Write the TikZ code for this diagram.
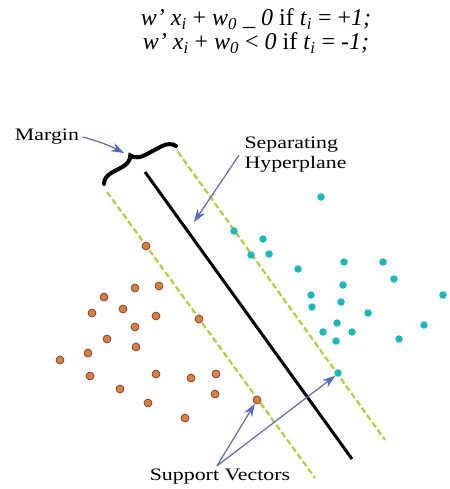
\documentclass[tikz,border=0pt]{standalone}
\usepackage{fontspec}
\setmainfont{Liberation Serif}
\newfontfamily\labelfont[FakeStretch=1.25]{Liberation Serif}
\usetikzlibrary{arrows.meta,decorations.pathreplacing}
\definecolor{marginline}{HTML}{B5CC3E}
\definecolor{pointer}{HTML}{5A6BB5}
\definecolor{classneg}{HTML}{E37A35}
\definecolor{classpos}{HTML}{1FB8B8}
\newcommand{\lowidx}[1]{\textsubscript{\itshape #1}}

\begin{document}
\begin{tikzpicture}[x=1pt,y=-1pt,
  labeltext/.style={font=\labelfont\fontsize{17.5}{20}\selectfont},
  pointerarrow/.style={pointer,line width=1.2pt,-{Stealth[length=13pt,width=9pt]}},
  marginedge/.style={marginline,line width=2.2pt,dash pattern=on 6pt off 3pt},
  negdot/.style={circle,inner sep=0pt,minimum size=8pt,fill=classneg,draw=black!75,line width=0.6pt},
  posdot/.style={circle,inner sep=0pt,minimum size=7.5pt,fill=classpos}]
\useasboundingbox (0,0) rectangle (449,489);
% Decision rule
\node[font=\fontsize{24}{24}\selectfont,align=center] (rule) at (256,31)
  {\textit{w' x}\lowidx{i} + \textit{w}\lowidx{0} \_ \textit{0} if \textit{t}\lowidx{i} = +\textit{1;}\\
   \textit{w' x}\lowidx{i} + \textit{w}\lowidx{0} < \textit{0} if \textit{t}\lowidx{i} = -\textit{1;}};
% Margin boundaries
\draw[marginedge] (107,192) -- (315,478);
\draw[marginedge] (178,152) -- (385,440);
% Separating hyperplane
\draw[line width=3pt] (145,172) -- (352,459);
% Margin brace
\draw[line width=4pt,line cap=round,decorate,
  decoration={brace,amplitude=13pt,aspect=0.45}] (104,184) -- (176,146);
\coordinate (bracetip) at (124,153);
% Class -1
\foreach \px/\py in {135/288,159/286,104/297,92/313,123/309,156/316,135/327,
  107/339,136/347,88/353,60/360,90/376,156/374,191/378,216/374,120/389,
  215/394,148/403,185/418}
  \node[negdot] at (\px,\py) {};
\node[negdot] (negsva) at (146,246) {};
\node[negdot] (negsvb) at (199,319) {};
\node[negdot] (negsvc) at (257,400) {};
% Class +1
\foreach \px/\py in {321/197,263/239,269/254,298/269,344/262,383/262,394/279,
  343/285,443/295,311/295,341/302,312/307,368/313,337/323,424/325,323/332,
  352/332,336/341,399/339}
  \node[posdot] at (\px,\py) {};
\node[posdot] (possva) at (234,231) {};
\node[posdot] (possvb) at (251,255) {};
\node[posdot] (possvc) at (338,373) {};
% Labels
\node[labeltext] (marginlabel) at (47,137) {Margin};
\node[labeltext,align=left,anchor=north west] (hyplabel) at (241,133) {Separating\\Hyperplane};
\node[labeltext] (svlabel) at (220,477) {Support Vectors};
\coordinate (hyptarget) at (194,222);
% Pointers
\draw[pointerarrow] (marginlabel.east) to[bend left=6] (bracetip);
\draw[pointerarrow] ([yshift=-1pt]hyplabel.west) ++(-2,0) -- (hyptarget);
\draw[pointerarrow] ([xshift=-3pt]svlabel.north) -- (negsvc.240);
\draw[pointerarrow] ([xshift=-3pt]svlabel.north) -- (possvc.225);
\end{tikzpicture}
\end{document}
